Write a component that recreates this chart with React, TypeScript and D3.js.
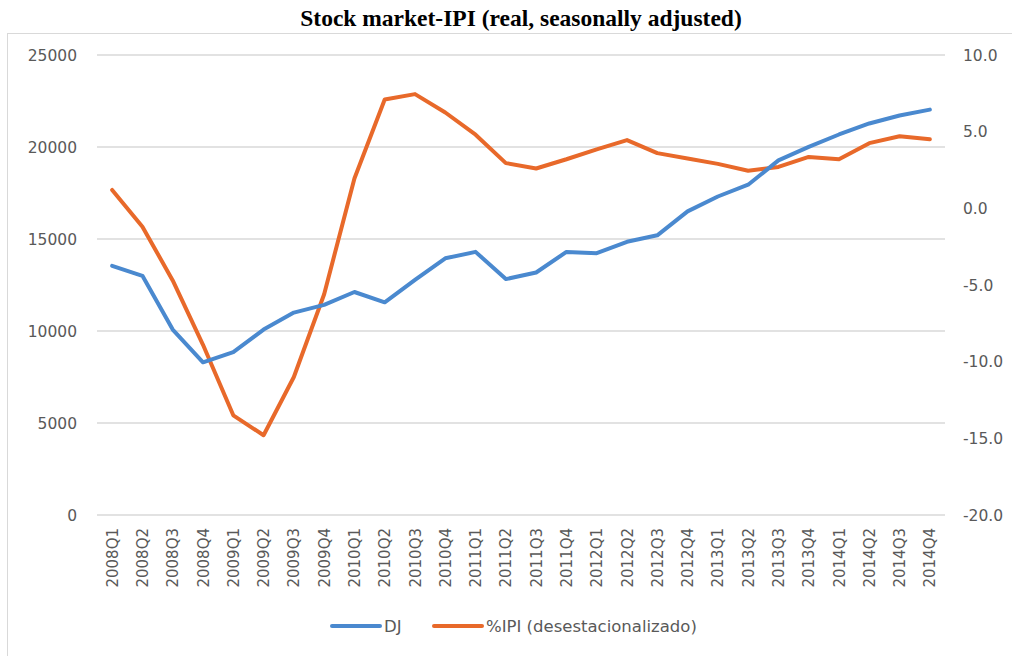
import React, { useEffect, useRef } from "react";
import * as d3 from "d3";

const quarters = [
  "2008Q1", "2008Q2", "2008Q3", "2008Q4",
  "2009Q1", "2009Q2", "2009Q3", "2009Q4",
  "2010Q1", "2010Q2", "2010Q3", "2010Q4",
  "2011Q1", "2011Q2", "2011Q3", "2011Q4",
  "2012Q1", "2012Q2", "2012Q3", "2012Q4",
  "2013Q1", "2013Q2", "2013Q3", "2013Q4",
  "2014Q1", "2014Q2", "2014Q3", "2014Q4"
];

const dj = [
  13540, 13000, 10080, 8300,
  8850, 10080, 11000, 11420,
  12120, 11560, 12780, 13950,
  14300, 12820, 13180, 14300,
  14230, 14850, 15200, 16500,
  17310, 17950, 19270, 20010,
  20680, 21280, 21710, 22030
];

const ipi = [
  1.2, -1.2, -4.7, -8.9,
  -13.5, -14.8, -11.0, -5.6,
  1.95, 7.1, 7.45, 6.25,
  4.8, 2.95, 2.6, 3.2,
  3.85, 4.45, 3.6, 3.25,
  2.9, 2.45, 2.7, 3.35,
  3.2, 4.25, 4.7, 4.5
];

const leftTicks = [0, 5000, 10000, 15000, 20000, 25000];
const rightTicks = [-20, -15, -10, -5, 0, 5, 10];

const W = 1012;
const H = 656;
const BLUE = "#4A89CF";
const ORANGE = "#E8692A";
const FONT = "DejaVu Sans";

const App = () => {
  const ref = useRef<SVGSVGElement>(null);

  useEffect(() => {
    const svg = d3.select(ref.current);
    svg.selectAll("*").remove();

    const x = d3.scaleBand().domain(quarters).range([97, 945]);
    const yL = d3.scaleLinear().domain([0, 25000]).range([515, 55]);
    const yR = d3.scaleLinear().domain([-20, 10]).range([515, 55]);
    const cx = (q: string) => (x(q) as number) + x.bandwidth() / 2;

    // frame
    svg.append("rect")
      .attr("x", 7.5).attr("y", 33.5)
      .attr("width", 1010).attr("height", 640)
      .attr("fill", "none").attr("stroke", "#d9d9d9");

    svg.append("text")
      .attr("x", 521).attr("y", 26)
      .attr("text-anchor", "middle")
      .attr("font-family", "Liberation Serif")
      .attr("font-weight", "bold")
      .attr("font-size", 23.5)
      .text("Stock market-IPI (real, seasonally adjusted)");

    // gridlines
    svg.append("g").selectAll("line")
      .data(leftTicks)
      .join("line")
        .attr("x1", 97).attr("x2", 945)
        .attr("y1", d => yL(d)).attr("y2", d => yL(d))
        .attr("stroke", "#d9d9d9").attr("stroke-width", 1.5);

    // left axis labels
    svg.append("g")
        .attr("font-family", FONT).attr("font-size", 15.5)
        .attr("fill", "#595959").attr("text-anchor", "end")
      .selectAll("text")
      .data(leftTicks)
      .join("text")
        .attr("x", 77).attr("y", d => yL(d) + 5.5)
        .text(d => String(d));

    // right axis labels
    svg.append("g")
        .attr("font-family", FONT).attr("font-size", 15.5)
        .attr("fill", "#595959").attr("text-anchor", "start")
      .selectAll("text")
      .data(rightTicks)
      .join("text")
        .attr("x", 963).attr("y", d => yR(d) + 5.5)
        .text(d => d.toFixed(1));

    // x labels
    svg.append("g")
        .attr("font-family", FONT).attr("font-size", 15)
        .attr("fill", "#595959").attr("text-anchor", "end")
      .selectAll("text")
      .data(quarters)
      .join("text")
        .attr("transform", d => `translate(${cx(d) + 5.5},528) rotate(-90)`)
        .text(d => d);

    const lineL = d3.line<number>().x((_, i) => cx(quarters[i])).y(d => yL(d));
    const lineR = d3.line<number>().x((_, i) => cx(quarters[i])).y(d => yR(d));

    svg.append("path").datum(ipi)
      .attr("d", lineR)
      .attr("fill", "none").attr("stroke", ORANGE)
      .attr("stroke-width", 4).attr("stroke-linejoin", "round").attr("stroke-linecap", "round");

    svg.append("path").datum(dj)
      .attr("d", lineL)
      .attr("fill", "none").attr("stroke", BLUE)
      .attr("stroke-width", 4).attr("stroke-linejoin", "round").attr("stroke-linecap", "round");

    // legend
    const legend = [
      { name: "DJ", color: BLUE, x: 332 },
      { name: "%IPI (desestacionalizado)", color: ORANGE, x: 434 }
    ];
    const lg = svg.append("g").selectAll("g").data(legend).join("g");
    lg.append("line")
      .attr("x1", d => d.x).attr("x2", d => d.x + 48)
      .attr("y1", 626).attr("y2", 626)
      .attr("stroke", d => d.color).attr("stroke-width", 4).attr("stroke-linecap", "round");
    lg.append("text")
      .attr("x", d => d.x + 52).attr("y", 632)
      .attr("font-family", FONT).attr("font-size", 16.5).attr("fill", "#595959")
      .text(d => d.name);
  }, []);

  return (
    <svg ref={ref} width={W} height={H}
      style={{ position: "absolute", left: 0, top: 0, background: "#fff" }} />
  );
};

export default App;
